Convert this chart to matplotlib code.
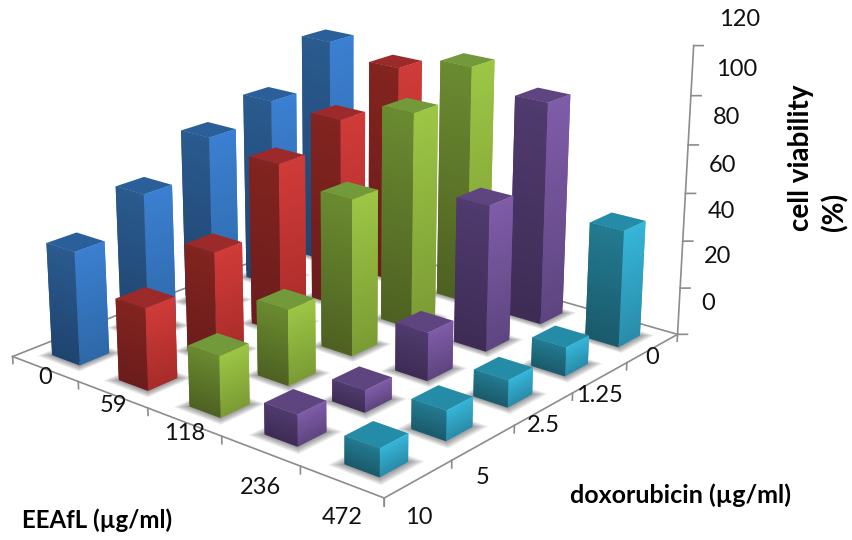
import numpy as np
import matplotlib
matplotlib.use('Agg')
import matplotlib.pyplot as plt
from mpl_toolkits.mplot3d.art3d import Poly3DCollection
from matplotlib.colors import to_rgb

plt.rcParams['font.family'] = ['Lato', 'DejaVu Sans']

eeafl = ['0', '59', '118', '236', '472']
dox = ['10', '5', '2.5', '1.25', '0']
zticks = [0, 20, 40, 60, 80, 100, 120]
viability = {
    '0':   [47, 60.5, 75, 82, 100],
    '59':  [33.5, 45, 71.5, 81, 95],
    '118': [24.5, 31, 65, 91, 102],
    '236': [12.5, 9, 20, 61, 94],
    '472': [11, 12, 11, 12, 49],
}
colors = {
 '0': ('#2b5f99', '#2a5a8e', '#1f4470', '#3b7fd0', '#2e68a8'),
 '59': ('#9c2a2a', '#82241f', '#6b1c1c', '#cf3b38', '#a82c2a'),
 '118': ('#72993a', '#6a8a30', '#4e6122', '#9cc545', '#7b9c34'),
 '236': ('#5f4580', '#503a6e', '#3e2c55', '#7e5ca8', '#5f4580'),
 '472': ('#258ca8', '#237a90', '#1a5a6c', '#35b5d8', '#2a8caa'),
}
x_label_px = [(45, 378), (113, 405), (185, 433), (261, 488), (342, 518)]
y_label_px = [(419, 517), (483, 477), (543, 426), (599, 396), (652, 357)]
z_label_px = [(708, 303), (718, 257), (721, 211), (723, 165), (727, 118), (737, 70), (740, 20)]

W, H = 853, 540
fig = plt.figure(figsize=(W/100, H/100), dpi=100)
L, B, Wp = -24.4, -36.6, 728.0
ax = fig.add_axes([L/W, B/H, Wp/W, Wp/H], projection='3d', computed_zorder=False)
ax.set_axis_off()
ax.set_xlim(0, 5, view_margin=0)
ax.set_ylim(0, 5, view_margin=0)
ax.set_zlim(0, 120, view_margin=0)
ax.view_init(18.855, -49.982)
ax.set_proj_type('persp', focal_length=0.5209)
ax.set_box_aspect((1, 0.9970, 0.6375))

bw = 0.42
N = 30
for i, e in enumerate(eeafl):
    ctop, lt, lb_, rt, rb = [np.array(to_rgb(c)) for c in colors[e]]
    for j, v in enumerate(viability[e]):
        a0, a1 = i+.5-bw/2, i+.5+bw/2
        b0, b1 = j+.5-bw/2, j+.5+bw/2
        for d in np.linspace(0.02, 0.11, 6):
            sq = [(a0-d, b0-d, 0), (a1+d, b0-d, 0), (a1+d, b1+d, 0), (a0-d, b1+d, 0)]
            ax.add_collection3d(Poly3DCollection([sq], facecolors=(0, 0, 0, 0.07), edgecolors='none', zorder=2), autolim=False)
        polys = []; cols = []
        zs = np.linspace(0, v, N+1)
        for k in range(N):
            f = k/(N-1)
            ztop = zs[min(k+2, N)]
            polys.append([(a0, b0, zs[k]), (a1, b0, zs[k]), (a1, b0, ztop), (a0, b0, ztop)]); cols.append(lb_+(lt-lb_)*f)
            polys.append([(a1, b0, zs[k]), (a1, b1, zs[k]), (a1, b1, ztop), (a1, b0, ztop)]); cols.append(rb+(rt-rb)*f)
        polys.append([(a0, b0, v), (a1, b0, v), (a1, b1, v), (a0, b1, v)]); cols.append(ctop)
        ax.add_collection3d(Poly3DCollection(polys, facecolors=cols, edgecolors='none', zorder=10+i-j), autolim=False)

gray = '#8c8c8c'
for a, b in [((0,0,0),(5,0,0)), ((5,0,0),(5,5,0)), ((5,5,0),(0,5,0)), ((0,5,0),(0,0,0))]:
    ax.plot(*zip(a, b), color=gray, lw=1.2, zorder=1)
ax.plot((5,5),(5,5),(0,120), color=gray, lw=1.2, zorder=1)
for t in range(6):
    ax.plot((t,t),(0,0),(0,-3), color=gray, lw=1.2, zorder=1)
    ax.plot((5,5),(t,t),(0,-3), color=gray, lw=1.2, zorder=1)
for z in zticks:
    ax.plot((5,5.08),(5,5.07),(z,z), color=gray, lw=1.2, zorder=1)

for lab, (px, py) in list(zip(eeafl, x_label_px)) + list(zip(dox, y_label_px)) + list(zip(map(str, zticks), z_label_px)):
    fig.text(px/W, 1-py/H, lab, ha='center', va='center', fontsize=17, color='#111111')
fig.text(22/W, 1-520/H, 'EEAfL (µg/ml)', ha='left', va='center', fontsize=17.3, fontweight='bold')
fig.text(570/W, 1-495/H, 'doxorubicin (µg/ml)', ha='left', va='center', fontsize=18, fontweight='bold')
fig.text(801/W, 1-231/H, 'cell viability', ha='center', va='bottom', rotation=90, fontsize=20, fontweight='bold')
fig.text(835/W, 1-231/H, '(%)', ha='center', va='bottom', rotation=90, fontsize=20, fontweight='bold')
fig.savefig('out.png', dpi=100)
